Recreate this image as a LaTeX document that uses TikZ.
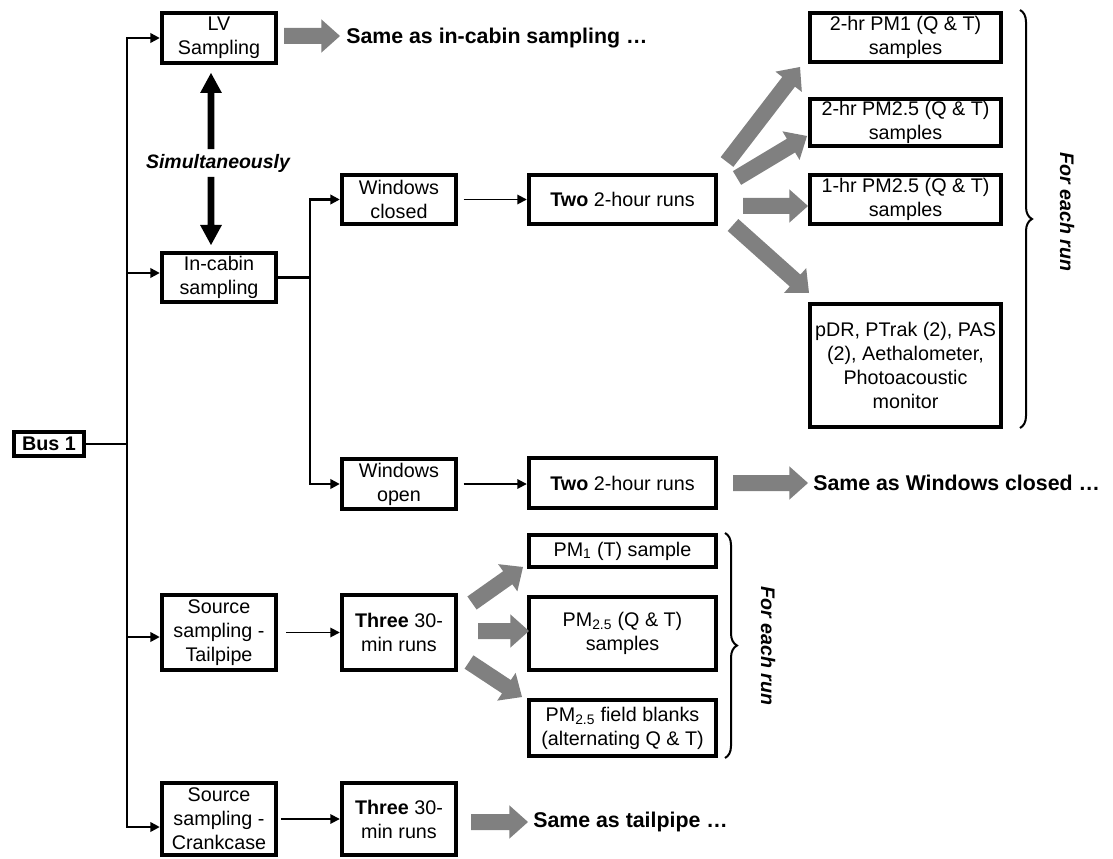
\documentclass[tikz,border=0pt]{standalone}
\usepackage{fontspec}
\setmainfont{Liberation Sans}
\usetikzlibrary{arrows.meta,decorations.pathreplacing,calc}
\definecolor{arrgray}{RGB}{128,128,128}
\newcommand\bxfont{\fontsize{14.8pt}{18pt}\selectfont}
\newcommand\samefont{\fontsize{16pt}{19pt}\selectfont\bfseries}
\newcommand\simfont{\fontsize{14.6pt}{17pt}\selectfont\bfseries\itshape}
\newcommand\forfont{\fontsize{14.7pt}{17pt}\selectfont\bfseries\itshape}
% fat arrow polygon: #1 colour, #2 from, #3 to, #4 half shaft, #5 half head, #6 head length
\newcommand\fatarrow[6]{%
  \path ($(#3)!#6!(#2)$) coordinate (hb);
  \fill[#1] ($(#2)!#4!90:(#3)$) -- ($(hb)!#4!-90:(#2)$) -- ($(hb)!#5!-90:(#2)$) -- (#3)
    -- ($(hb)!#5!90:(#2)$) -- ($(hb)!#4!90:(#2)$) -- ($(#2)!#4!-90:(#3)$) -- cycle;}
\begin{document}
\begin{tikzpicture}[x=0.75pt,y=-0.75pt,
  box/.style={draw, line width=2.8pt, inner sep=0pt, align=center, font=\bxfont},
  trunk/.style={line width=2.2pt, line cap=rect},
  arr/.style={line width=1.7pt, -{Triangle[length=7pt,width=7pt]}},
  arrthin/.style={line width=1.3pt, -{Triangle[length=7pt,width=7pt]}, shorten <=4pt},
  bracestyle/.style={decorate, decoration={brace, amplitude=9pt}, line width=1.5pt},
  sametext/.style={anchor=west, inner sep=0pt, font=\samefont}]
\useasboundingbox (0,0) rectangle (1113,859);

% boxes
\node[box, font=\bxfont\bfseries, minimum width=53pt, minimum height=18.5pt] (bus) at (49,444) {Bus 1};
\node[box, minimum width=86pt, minimum height=38pt] (lv) at (219,38) {LV\\Sampling};
\node[box, minimum width=86pt, minimum height=37.25pt] (incab) at (219,277.5) {In-cabin\\sampling};
\node[box, minimum width=86pt, minimum height=37.25pt] (wclosed) at (399,199.5) {Windows\\closed};
\node[box, minimum width=140.75pt, minimum height=37.25pt] (two1) at (622.5,199.5) {\textbf{Two} 2-hour runs};
\node[box, minimum width=86pt, minimum height=38pt] (wopen) at (399,484) {Windows\\open};
\node[box, minimum width=140.75pt, minimum height=38pt] (two2) at (622.5,483) {\textbf{Two} 2-hour runs};
\node[box, minimum width=143.75pt, minimum height=37.25pt] (pm1a) at (905.5,37.5) {2-hr PM1 (Q \& T)\\samples};
\node[box, minimum width=143.75pt, minimum height=35.75pt] (pm25a) at (905.5,122.5) {2-hr PM2.5 (Q \& T)\\samples};
\node[box, minimum width=143.75pt, minimum height=37.25pt] (pm25b) at (905.5,199.5) {1-hr PM2.5 (Q \& T)\\samples};
\node[box, minimum width=143.75pt, minimum height=92.75pt] (pdr) at (905.5,365.5) {pDR, PTrak (2), PAS\\(2), Aethalometer,\\Photoacoustic\\monitor};
\node[box, minimum width=86pt, minimum height=56.75pt] (tail) at (219,632.5) {Source\\sampling -\\Tailpipe};
\node[box, minimum width=86pt, minimum height=56.75pt] (three1) at (399,632.5) {\textbf{Three} 30-\\min runs};
\node[box, minimum width=86pt, minimum height=54.5pt] (crank) at (219,819) {Source\\sampling -\\Crankcase};
\node[box, minimum width=86pt, minimum height=54.5pt] (three2) at (399,819) {\textbf{Three} 30-\\min runs};
\node[box, minimum width=140.75pt, minimum height=24.5pt] (pm1t) at (622.5,551) {PM\textsubscript{1} (T) sample};
\node[box, minimum width=140.75pt, minimum height=55.25pt] (pm25t) at (622.5,633.5) {PM\textsubscript{2.5} (Q \& T)\\samples};
\node[box, minimum width=140.75pt, minimum height=42.5pt] (blanks) at (622.5,728) {PM\textsubscript{2.5} field blanks\\(alternating Q \& T)};

% texts
\node[sametext] (samecab) at (346,38) {Same as in-cabin sampling …};
\node[sametext] (samewin) at (813,483) {Same as Windows closed …};
\node[sametext] (sametail) at (533,822) {Same as tailpipe …};
\node[font=\simfont] (simul) at (218,163) {Simultaneously};
\node[font=\forfont, rotate=-90] (for1) at (1067,212) {For each run};
\node[font=\forfont, rotate=-90] (for2) at (768,646) {For each run};

% trunk from Bus 1
\coordinate (tt) at (127,38);
\coordinate (tb) at (127,827);
\coordinate (ti) at (127,273);
\coordinate (tp) at (127,637);
\draw[trunk] (tt) -- (tb);
\draw[trunk] (bus.east) -- (bus.east -| tt);
\draw[arr] (tt) -- (lv.west);
\draw[arr] (ti) -- (ti -| incab.west);
\draw[arr] (tp) -- (tp -| tail.west);
\draw[arr] (tb) -- (tb -| crank.west);

% branch from in-cabin
\coordinate (bt) at (310,199.5);
\coordinate (bb) at (310,484);
\draw[trunk] (incab.east) -- (incab.east -| bt);
\draw[trunk] (bt) -- (bb);
\draw[arr] (bt) -- (wclosed.west);
\draw[arr] (bb) -- (wopen.west);

% box to box
\draw[arrthin] (wclosed.east) -- (two1.west);
\draw[arrthin] (wopen.east) -- (wopen.east -| two2.west);
\draw[arrthin, shorten <=6pt] (tail.east) -- (three1.west);
\draw[arrthin, shorten <=2pt] (crank.east) -- (three2.west);

% simultaneously double arrow
\coordinate (dx) at (211,0);
\coordinate (d1a) at (dx |- simul.north);
\coordinate (d1b) at (211,73);
\coordinate (d2a) at (dx |- simul.south);
\coordinate (d2b) at (211,245);
\fatarrow{black}{d1a}{d1b}{2.6pt}{8.2pt}{15pt}
\fatarrow{black}{d2a}{d2b}{2.6pt}{8.2pt}{15pt}

% gray arrows
\coordinate (g0a) at (284,36);  \coordinate (g0b) at (340,36);
\coordinate (g1a) at (727,162); \coordinate (g1b) at (800,67);
\coordinate (g2a) at (737,178); \coordinate (g2b) at (807,136);
\coordinate (g3a) at (743,206); \coordinate (g3b) at (808,206);
\coordinate (g4a) at (733,225); \coordinate (g4b) at (809,293);
\coordinate (g5a) at (733,483); \coordinate (g5b) at (808,483);
\coordinate (g6a) at (472,603); \coordinate (g6b) at (523,567);
\coordinate (g7a) at (478,631); \coordinate (g7b) at (529,631);
\coordinate (g8a) at (469,662); \coordinate (g8b) at (522,697);
\coordinate (g9a) at (471,822); \coordinate (g9b) at (528,822);
\foreach \g in {0,...,9}{\fatarrow{arrgray}{g\g a}{g\g b}{6pt}{12.5pt}{14pt}}

% braces
\draw[bracestyle] (1020,10) -- (1020,428);
\draw[bracestyle] (725,533) -- (725,758);
\end{tikzpicture}
\end{document}
